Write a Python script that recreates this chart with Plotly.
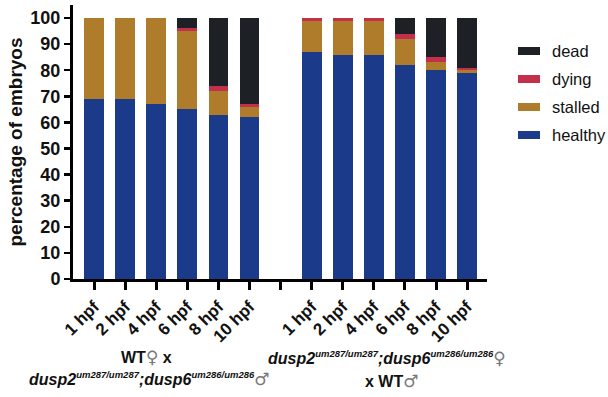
import plotly.graph_objects as go

# ---- data ----
time_labels = ["1 hpf", "2 hpf", "4 hpf", "6 hpf", "8 hpf", "10 hpf"]
series_names = ["healthy", "stalled", "dying", "dead"]

# group 1: WT female x dusp2;dusp6 male
g1_healthy = [69, 69, 67, 65, 63, 62]
g1_stalled = [31, 31, 33, 30, 9, 4]
g1_dying = [0, 0, 0, 1, 2, 1]
g1_dead = [0, 0, 0, 4, 26, 33]

# group 2: dusp2;dusp6 female x WT male
g2_healthy = [87, 86, 86, 82, 80, 79]
g2_stalled = [12, 13, 13, 10, 3, 1]
g2_dying = [1, 1, 1, 2, 2, 1]
g2_dead = [0, 0, 0, 6, 15, 19]

y_ticks = [0, 10, 20, 30, 40, 50, 60, 70, 80, 90, 100]

colors = {
    "healthy": "#1B3A8A",
    "stalled": "#AF7C2C",
    "dying": "#C3304B",
    "dead": "#1D2025",
}

# ---- positions (group 1 at 0..5, gap at 6, group 2 at 7..12) ----
n = len(time_labels)
xpos = list(range(n)) + [i + n + 1 for i in range(n)]
tickvals = list(range(2 * n + 1))
ticktext = time_labels + [""] + time_labels

values = {
    "healthy": g1_healthy + g2_healthy,
    "stalled": g1_stalled + g2_stalled,
    "dying": g1_dying + g2_dying,
    "dead": g1_dead + g2_dead,
}

FONT = "Liberation Sans, Arial, sans-serif"

fig = go.Figure()
for name in series_names:
    fig.add_trace(go.Bar(
        x=xpos, y=values[name], name=name,
        marker=dict(color=colors[name], line=dict(width=0)),
        width=0.64, showlegend=False, hoverinfo="skip",
    ))

# pixel geometry helpers
L, R, T, B = 73, 121, 5, 118
W, H = 608, 397
pw, ph = W - L - R, H - T - B


def px_x(px):
    return (px - L) / pw


def px_y(py):
    return (H - B - py) / ph


# manual legend (dead, dying, stalled, healthy from top)
legend_order = ["dead", "dying", "stalled", "healthy"]
shapes = []
annotations = []
for i, name in enumerate(legend_order):
    cy = 51 + 28 * i
    shapes.append(dict(type="rect", xref="paper", yref="paper",
                       x0=px_x(518), x1=px_x(540), y0=px_y(cy + 4), y1=px_y(cy - 4),
                       fillcolor=colors[name], line=dict(width=0)))
    annotations.append(dict(xref="paper", yref="paper", x=px_x(550), y=px_y(cy),
                            xanchor="left", yanchor="middle", showarrow=False,
                            text=name, font=dict(family=FONT, size=16.5, color="#111")))

sym = ('<span style="font-weight:normal;font-family:DejaVu Sans;'
       'font-size:17px;color:#777">{}</span>')
sup = '<sup><span style="font-size:9.5px">{}</span></sup>'
geno = ("<i>dusp2</i>" + sup.format("<i>um287/um287</i>") +
        "<i>;dusp6</i>" + sup.format("<i>um286/um286</i>"))

group_labels = [
    ("WT" + sym.format("♀") + " x", 146, 357),
    (geno + sym.format("♂"), 149, 379),
    (geno + sym.format("♀"), 387, 358),
    ("x WT" + sym.format("♂"), 391, 381),
]
for txt, cx, cy in group_labels:
    annotations.append(dict(xref="paper", yref="paper", x=px_x(cx), y=px_y(cy),
                            xanchor="center", yanchor="middle", showarrow=False,
                            text="<b>" + txt + "</b>",
                            font=dict(family=FONT, size=16, color="#111")))

fig.update_layout(
    width=W, height=H,
    margin=dict(l=L, r=R, t=T, b=B, pad=0),
    barmode="stack",
    bargap=0,
    plot_bgcolor="white", paper_bgcolor="white",
    font=dict(family=FONT, color="#111"),
    shapes=shapes, annotations=annotations,
    hovermode=False,
    xaxis=dict(
        range=[-0.68, 12.64], tickmode="array", tickvals=tickvals, ticktext=ticktext,
        tickangle=-45, showline=True, linecolor="black", linewidth=3,
        ticks="outside", ticklen=8, tickwidth=3, tickcolor="black",
        tickfont=dict(family=FONT, size=17, color="#111", weight="bold"),
        showgrid=False, zeroline=False,
    ),
    yaxis=dict(
        range=[0, 105], tickmode="array", tickvals=y_ticks,
        showline=True, linecolor="black", linewidth=3,
        ticks="outside", ticklen=6, tickwidth=2.5, tickcolor="black",
        tickfont=dict(family=FONT, size=18, color="#111", weight="bold"),
        title=dict(text="percentage of embryos", standoff=3,
                   font=dict(family=FONT, size=19, color="#111", weight="bold")),
        showgrid=False, zeroline=False,
    ),
)

fig.write_html("out.html", config={"displayModeBar": False, "staticPlot": True},
               post_script="document.body.style.margin='0';document.body.style.overflow='hidden';")
